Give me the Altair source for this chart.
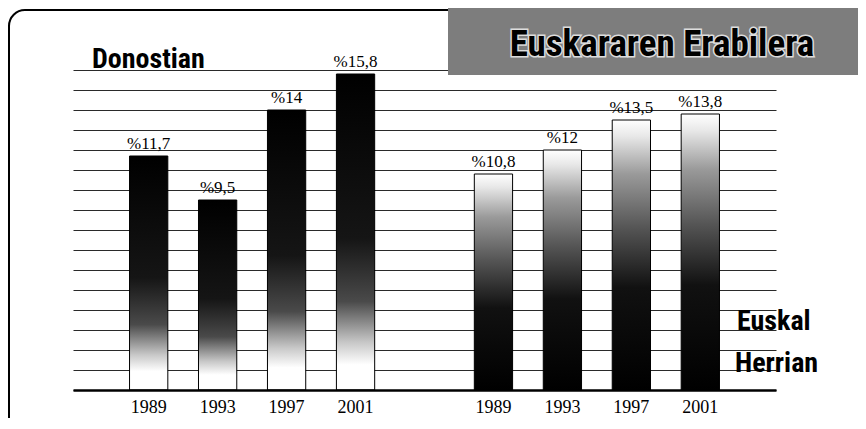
import altair as alt
import pandas as pd

# ---- data ----
years = ["1989", "1993", "1997", "2001"]
donostia = [11.7, 9.5, 14, 15.8]
euskal_herria = [10.8, 12, 13.5, 13.8]
slots = ["D1989", "D1993", "D1997", "D2001", "gap", "E1989", "E1993", "E1997", "E2001"]
grid_values = list(range(0, 17))
title_text = ["Euskararen Erabilera"]
left_label = ["Donostian"]
right_label_1 = ["Euskal"]
right_label_2 = ["Herrian"]


def fmt(v):
    return "%" + f"{v:g}".replace(".", ",")


rows = []
for yr, v in zip(years, donostia):
    rows.append({"slot": "D" + yr, "group": "Donostian", "value": v, "label": fmt(v)})
for yr, v in zip(years, euskal_herria):
    rows.append({"slot": "E" + yr, "group": "Euskal Herrian", "value": v, "label": fmt(v)})
df = pd.DataFrame(rows)

W, H = 703, 320
HEAVY = "Roboto Condensed, Liberation Sans Narrow, Liberation Sans, sans-serif"
SERIF = "Liberation Serif, DejaVu Serif, serif"

x_enc = alt.X(
    "slot:N",
    sort=slots,
    scale=alt.Scale(domain=slots, paddingInner=0.445, paddingOuter=0.82),
    axis=alt.Axis(
        title=None,
        labelExpr="datum.value == 'gap' ? '' : slice(datum.value, 1)",
        ticks=False,
        domainColor="black",
        domainWidth=2.5,
        labelFont=SERIF,
        labelFontSize=18,
        labelColor="black",
        labelPadding=8,
        labelAngle=0,
        zindex=1,
    ),
)
y_enc = alt.Y(
    "value:Q",
    scale=alt.Scale(domain=[0, 16], nice=False),
    axis=alt.Axis(
        title=None,
        labels=False,
        ticks=False,
        domain=False,
        grid=True,
        gridColor="#2a2a2a",
        gridWidth=1,
        values=grid_values,
    ),
)

grad_d = alt.LinearGradient(
    gradient="linear", x1=0, y1=0, x2=0, y2=1,
    stops=[
        alt.GradientStop(color="#000000", offset=0),
        alt.GradientStop(color="#151515", offset=0.52),
        alt.GradientStop(color="#4a4a4a", offset=0.72),
        alt.GradientStop(color="#c8c8c8", offset=0.85),
        alt.GradientStop(color="#ffffff", offset=0.92),
        alt.GradientStop(color="#ffffff", offset=1),
    ],
)
grad_e = alt.LinearGradient(
    gradient="linear", x1=0, y1=0, x2=0, y2=1,
    stops=[
        alt.GradientStop(color="#ffffff", offset=0),
        alt.GradientStop(color="#e8e8e8", offset=0.06),
        alt.GradientStop(color="#9a9a9a", offset=0.2),
        alt.GradientStop(color="#555555", offset=0.4),
        alt.GradientStop(color="#111111", offset=0.62),
        alt.GradientStop(color="#000000", offset=1),
    ],
)

base = alt.Chart(df)

bars_d = base.transform_filter("datum.group == 'Donostian'").mark_bar(
    fill=grad_d, stroke="black", strokeWidth=1
).encode(x=x_enc, y=y_enc)

bars_e = base.transform_filter("datum.group == 'Euskal Herrian'").mark_bar(
    fill=grad_e, stroke="black", strokeWidth=1
).encode(x=x_enc, y=y_enc)

values_txt = base.mark_text(
    dy=-7, baseline="alphabetic", font=SERIF, fontSize=17, color="black"
).encode(x=x_enc, y=y_enc, text="label:N")

one = pd.DataFrame({"k": [0]})

frame = alt.Chart(one).mark_rect(
    fill="transparent", stroke="black", strokeWidth=2, cornerRadius=16
).encode(x=alt.value(-64), x2=alt.value(900), y=alt.value(-60), y2=alt.value(370))

title_box = alt.Chart(one).mark_rect(fill="#7d7d7d").encode(
    x=alt.value(375), x2=alt.value(800), y=alt.value(-70), y2=alt.value(5)
)

tdf = pd.DataFrame({"t": title_text})
title_outline = alt.Chart(tdf).mark_text(
    font=HEAVY, fontSize=37, fontWeight="bold", align="center", baseline="middle",
    fill="black", stroke="#dddddd", strokeWidth=3
).encode(x=alt.value(589), y=alt.value(-25), text="t:N")
title_fill = alt.Chart(tdf).mark_text(
    font=HEAVY, fontSize=37, fontWeight="bold", align="center", baseline="middle",
    fill="black"
).encode(x=alt.value(589), y=alt.value(-25), text="t:N")

don = alt.Chart(pd.DataFrame({"t": left_label})).mark_text(
    font=HEAVY, fontSize=28, fontWeight="bold", align="left", baseline="alphabetic", color="black"
).encode(x=alt.value(19), y=alt.value(-2), text="t:N")

eus1 = alt.Chart(pd.DataFrame({"t": right_label_1})).mark_text(
    font=HEAVY, fontSize=28, fontWeight="bold", align="left", baseline="alphabetic", color="black"
).encode(x=alt.value(664), y=alt.value(260), text="t:N")

eus2 = alt.Chart(pd.DataFrame({"t": right_label_2})).mark_text(
    font=HEAVY, fontSize=28, fontWeight="bold", align="left", baseline="alphabetic", color="black"
).encode(x=alt.value(662), y=alt.value(302), text="t:N")

chart = alt.layer(
    frame, bars_d, bars_e, values_txt, title_box, title_outline, title_fill, don, eus1, eus2
).properties(
    width=W,
    height=H,
    autosize=alt.AutoSizeParams(type="none"),
    padding={"left": 65, "top": 62, "right": 82, "bottom": 28},
    background="white",
).configure_view(stroke=None)

chart.save("out.html", embed_options={"renderer": "svg", "actions": False})
